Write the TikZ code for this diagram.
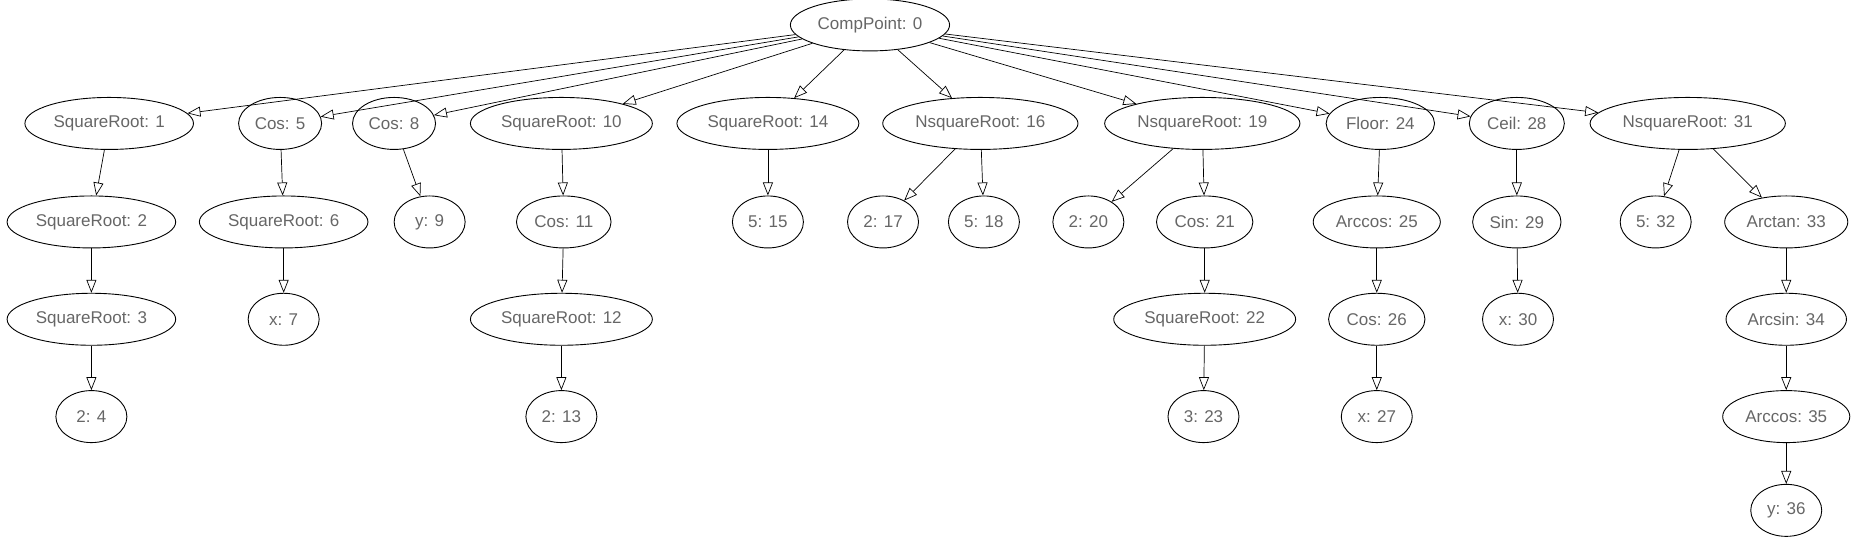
\documentclass[tikz,border=0pt]{standalone}
\usepackage{fontspec}
\setmainfont{Liberation Sans}
\usetikzlibrary{arrows.meta, shapes.geometric}

\tikzset{
    op/.style={draw, ellipse, line width=0.9pt, text=black!60, inner xsep=4pt, inner ysep=10pt,
        minimum width=71pt, minimum height=52pt, font=\fontsize{17}{20}\selectfont},
    link/.style={-{Triangle[open, length=13pt, width=10pt]}, line width=0.7pt}
}

\begin{document}
\begin{tikzpicture}[x=1.1869pt, y=-1.1869pt]
                    \useasboundingbox (0, 0) rectangle (1568, 454);

                    \node[op] (n0) at (733, 21) {CompPoint: 0};

                    \node[op] (n1) at (92, 104) {SquareRoot: 1};
                    \node[op] (n5) at (236, 104) {Cos: 5};
                    \node[op] (n8) at (332, 104) {Cos: 8};
                    \node[op] (n10) at (473, 104) {SquareRoot: 10};
                    \node[op] (n14) at (647, 104) {SquareRoot: 14};
                    \node[op] (n16) at (826, 104) {NsquareRoot: 16};
                    \node[op] (n19) at (1013, 104) {NsquareRoot: 19};
                    \node[op] (n24) at (1163, 104) {Floor: 24};
                    \node[op] (n28) at (1278, 104) {Ceil: 28};
                    \node[op] (n31) at (1422, 104) {NsquareRoot: 31};

                    \node[op] (n2) at (77, 187) {SquareRoot: 2};
                    \node[op] (n6) at (239, 187) {SquareRoot: 6};
                    \node[op] (n9) at (362, 187) {y: 9};
                    \node[op] (n11) at (475, 187) {Cos: 11};
                    \node[op] (n15) at (647, 187) {5: 15};
                    \node[op] (n17) at (744, 187) {2: 17};
                    \node[op] (n18) at (829, 187) {5: 18};
                    \node[op] (n20) at (917, 187) {2: 20};
                    \node[op] (n21) at (1015, 187) {Cos: 21};
                    \node[op] (n25) at (1160, 187) {Arccos: 25};
                    \node[op] (n29) at (1278, 187) {Sin: 29};
                    \node[op] (n32) at (1395, 187) {5: 32};
                    \node[op] (n33) at (1505, 187) {Arctan: 33};

                    \node[op] (n3) at (77, 269) {SquareRoot: 3};
                    \node[op] (n7) at (239, 269) {x: 7};
                    \node[op] (n12) at (473, 269) {SquareRoot: 12};
                    \node[op] (n22) at (1015, 269) {SquareRoot: 22};
                    \node[op] (n26) at (1160, 269) {Cos: 26};
                    \node[op] (n30) at (1279, 269) {x: 30};
                    \node[op] (n34) at (1505, 269) {Arcsin: 34};

                    \node[op] (n4) at (77, 351) {2: 4};
                    \node[op] (n13) at (473, 351) {2: 13};
                    \node[op] (n23) at (1014, 351) {3: 23};
                    \node[op] (n27) at (1160, 351) {x: 27};
                    \node[op] (n35) at (1505, 351) {Arccos: 35};

                    \node[op] (n36) at (1505, 430) {y: 36};

                    \draw[link]
                    (n0) edge (n1) (n0) edge (n5) (n0) edge (n8) (n0) edge (n10)
                    (n0) edge (n14) (n0) edge (n16) (n0) edge (n19) (n0) edge (n24)
                    (n0) edge (n28) (n0) edge (n31)
                    (n1) edge (n2) (n2) edge (n3) (n3) edge (n4)
                    (n5) edge (n6) (n6) edge (n7)
                    (n8) edge (n9)
                    (n10) edge (n11) (n11) edge (n12) (n12) edge (n13)
                    (n14) edge (n15)
                    (n16) edge (n17) (n16) edge (n18)
                    (n19) edge (n20) (n19) edge (n21) (n21) edge (n22) (n22) edge (n23)
                    (n24) edge (n25) (n25) edge (n26) (n26) edge (n27)
                    (n28) edge (n29) (n29) edge (n30)
                    (n31) edge (n32) (n31) edge (n33)
                    (n33) edge (n34) (n34) edge (n35) (n35) edge (n36);
\end{tikzpicture}
\end{document}
